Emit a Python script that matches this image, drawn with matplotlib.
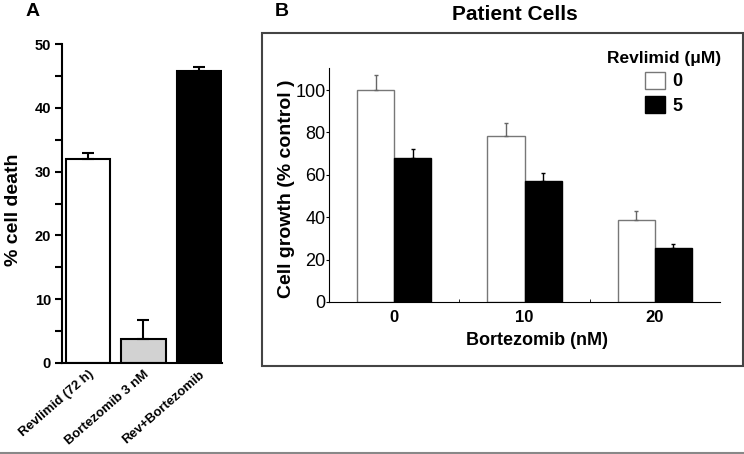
import matplotlib
matplotlib.use("Agg")
import matplotlib.pyplot as plt
import numpy as np
from matplotlib.patches import Patch, Rectangle
from matplotlib.lines import Line2D

plt.rcParams["font.family"] = ["Liberation Sans", "DejaVu Sans"]

# panel A: % cell death
A_LABELS = ["Revlimid (72 h)", "Bortezomib 3 nM", "Rev+Bortezomib"]
A_DEATH = [31.9, 3.7, 45.8]
A_ERR = [1.0, 3.0, 0.6]
A_COLORS = ["white", "#d2d2d2", "black"]

# panel B: patient cells, cell growth (% control)
B_DOSES = ["0", "10", "20"]
B_REV0 = [100.0, 78.3, 38.8]
B_REV0_ERR = [7.0, 6.0, 4.3]
B_REV5 = [68.0, 57.0, 25.3]
B_REV5_ERR = [4.0, 4.0, 2.0]

W, H = 744, 454
fig = plt.figure(figsize=(W / 100, H / 100), dpi=100)
fig.patch.set_facecolor("white")

# ---- panel A ----
axA = fig.add_axes([62 / W, 91 / H, 160 / W, 319 / H])
xa = np.arange(len(A_LABELS))
axA.bar(
    xa, A_DEATH, 0.8, color=A_COLORS, edgecolor="black", lw=1.5,
    yerr=[np.zeros(len(A_ERR)), A_ERR],
    error_kw=dict(ecolor="black", elinewidth=1.5, capsize=4.5, capthick=1.5),
)
axA.set_xlim(-0.47, 2.42)
axA.set_ylim(0, 50)
axA.set_yticks(range(0, 51, 10))
axA.set_yticks(range(5, 50, 10), minor=True)
axA.set_xticks(xa)
axA.set_xticklabels(A_LABELS, rotation=41, ha="right", rotation_mode="anchor",
                    fontsize=9.5, fontweight="bold")
for lab in axA.get_yticklabels():
    lab.set_fontweight("bold")
axA.tick_params(axis="y", which="both", direction="out", length=5, width=1.5,
                labelsize=10.5, pad=3)
axA.tick_params(axis="x", length=0, pad=4)
for s in ("top", "right"):
    axA.spines[s].set_visible(False)
for s in ("left", "bottom"):
    axA.spines[s].set_linewidth(1.5)
axA.set_ylabel("% cell death", fontsize=14, fontweight="bold")
axA.yaxis.set_label_coords(-0.25, 0.48)
fig.text(33 / W, 1 - 12 / H, "A", ha="center", va="center", fontsize=14, fontweight="bold")

# ---- panel B ----
fig.add_artist(Rectangle((262 / W, 88 / H), 481 / W, 333 / H, transform=fig.transFigure,
                         fill=False, edgecolor="#444444", lw=1.5))
axB = fig.add_axes([329 / W, 152 / H, 391 / W, 234 / H])
xb = np.arange(len(B_DOSES))
bw = 0.285
axB.bar(xb - bw / 2, B_REV0, bw, color="white", edgecolor="#777777", lw=1,
        yerr=[np.zeros(3), B_REV0_ERR],
        error_kw=dict(ecolor="#666666", elinewidth=1, capsize=1.5, capthick=1))
axB.bar(xb + bw / 2, B_REV5, bw, color="black", edgecolor="black", lw=1,
        yerr=[np.zeros(3), B_REV5_ERR],
        error_kw=dict(ecolor="black", elinewidth=1, capsize=1.5, capthick=1))
axB.set_xlim(-0.5, 2.5)
axB.set_ylim(0, 110.4)
axB.set_yticks(range(0, 101, 20))
axB.set_xticks(xb)
axB.set_xticklabels(B_DOSES, fontsize=12, fontweight="bold")
axB.set_xticks([0.5, 1.5], minor=True)
axB.tick_params(axis="x", which="major", length=0, pad=6)
axB.tick_params(axis="x", which="minor", direction="in", length=2)
axB.tick_params(axis="y", direction="out", length=2, labelsize=13, pad=0.5)
for s in ("top", "right"):
    axB.spines[s].set_visible(False)
axB.set_ylabel("Cell growth (% control )", fontsize=14, fontweight="bold")
axB.yaxis.set_label_coords(-0.087, 0.483)
axB.set_xlabel("Bortezomib (nM)", fontsize=13, fontweight="bold")
axB.xaxis.set_label_coords(0.532, -0.128)
handles = [Patch(facecolor="white", edgecolor="#777777", lw=1),
           Patch(facecolor="black", edgecolor="black")]
axB.legend(handles, ["0", "5"], title="Revlimid (μM)", frameon=False,
           title_fontproperties={"weight": "bold", "size": 12.5},
           prop={"weight": "bold", "size": 13},
           handlelength=1.1, handleheight=1.1, handletextpad=0.4, labelspacing=0.3,
           loc="upper right", bbox_to_anchor=(728 / W, 1 - 44 / H),
           bbox_transform=fig.transFigure, borderaxespad=0)
fig.text(515 / W, 1 - 15 / H, "Patient Cells", ha="center", va="center",
         fontsize=15, fontweight="bold")
fig.text(282 / W, 1 - 12 / H, "B", ha="center", va="center", fontsize=14, fontweight="bold")

fig.add_artist(Line2D([0, 1], [1.5 / H, 1.5 / H], transform=fig.transFigure,
                      color="#888888", lw=1.5))

fig.savefig("out.png", dpi=100, facecolor="white")
